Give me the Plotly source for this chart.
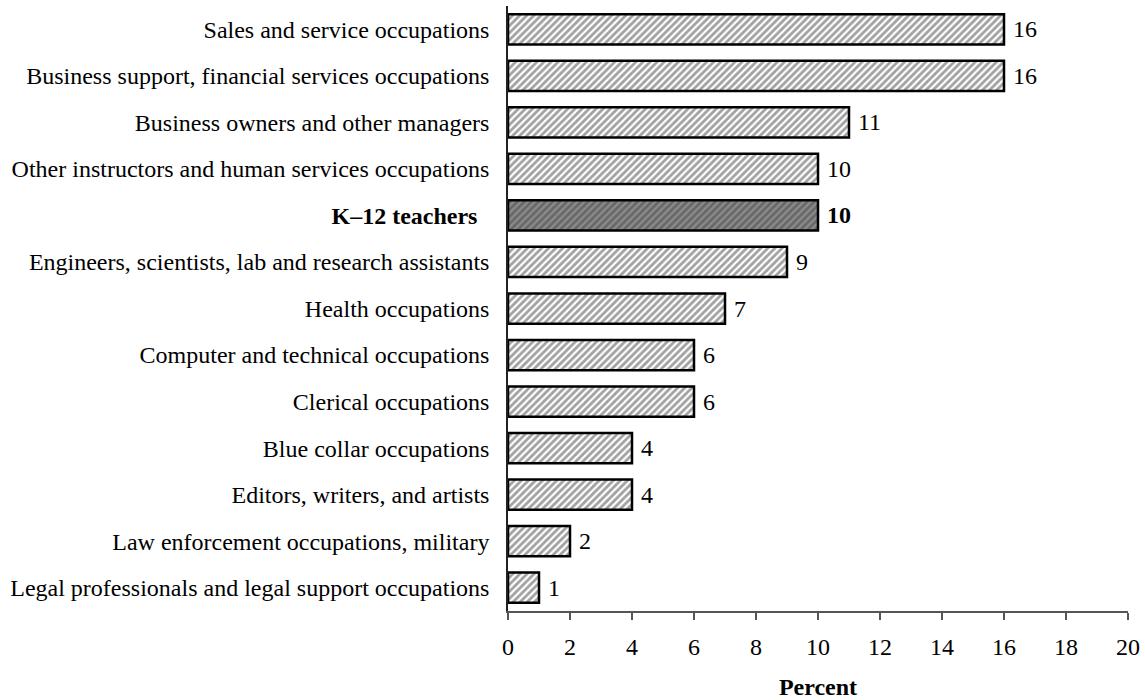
import plotly.graph_objects as go

categories = [
    "Sales and service occupations",
    "Business support, financial services occupations",
    "Business owners and other managers",
    "Other instructors and human services occupations",
    "K–12 teachers",
    "Engineers, scientists, lab and research assistants",
    "Health occupations",
    "Computer and technical occupations",
    "Clerical occupations",
    "Blue collar occupations",
    "Editors, writers, and artists",
    "Law enforcement occupations, military",
    "Legal professionals and legal support occupations",
]
values = [16, 16, 11, 10, 10, 9, 7, 6, 6, 4, 4, 2, 1]
highlight = "K–12 teachers"

font_family = "Liberation Serif, Times New Roman, serif"
fs = 24

bg = ["#8c8c8c" if c == highlight else "white" for c in categories]
texts = [f" <b>{v}</b>" if c == highlight else f" {v}" for c, v in zip(categories, values)]
ticktext = [f"<b>{c}</b>  " if c == highlight else c for c in categories]

fig = go.Figure(go.Bar(
    y=categories,
    x=values,
    orientation="h",
    width=0.65,
    marker=dict(
        color=bg,
        line=dict(color="black", width=2.5),
        pattern=dict(shape="/", fgcolor="black", bgcolor=bg, size=5, solidity=0.55, fillmode="overlay"),
    ),
    text=texts,
    textposition="outside",
    textfont=dict(family=font_family, size=fs, color="black"),
    cliponaxis=False,
))

fig.update_layout(
    width=1145, height=700,
    margin=dict(l=508, r=17, t=6, b=89, autoexpand=False),
    paper_bgcolor="white", plot_bgcolor="white",
    font=dict(family=font_family, size=fs, color="black"),
    showlegend=False,
)
fig.update_yaxes(
    categoryorder="array", categoryarray=categories[::-1],
    tickmode="array", tickvals=categories, ticktext=ticktext,
    showline=True, linecolor="#222", linewidth=1.5,
    ticks="", showgrid=False, ticklabelstandoff=12, automargin=False,
)
fig.update_xaxes(
    range=[0, 20], dtick=2, showgrid=False, zeroline=False,
    showline=True, linecolor="#555", linewidth=1.5,
    ticks="outside", ticklen=7, tickcolor="#555", tickwidth=1.5,
    ticklabelstandoff=6, ticklabeloverflow="allow", automargin=False,
    title=dict(text="<b>Percent</b>", standoff=21, font=dict(size=fs)),
)

fig.write_html(
    "out.html",
    config={"displayModeBar": False},
    post_script="document.body.style.margin='0';document.body.style.overflow='hidden';",
)
